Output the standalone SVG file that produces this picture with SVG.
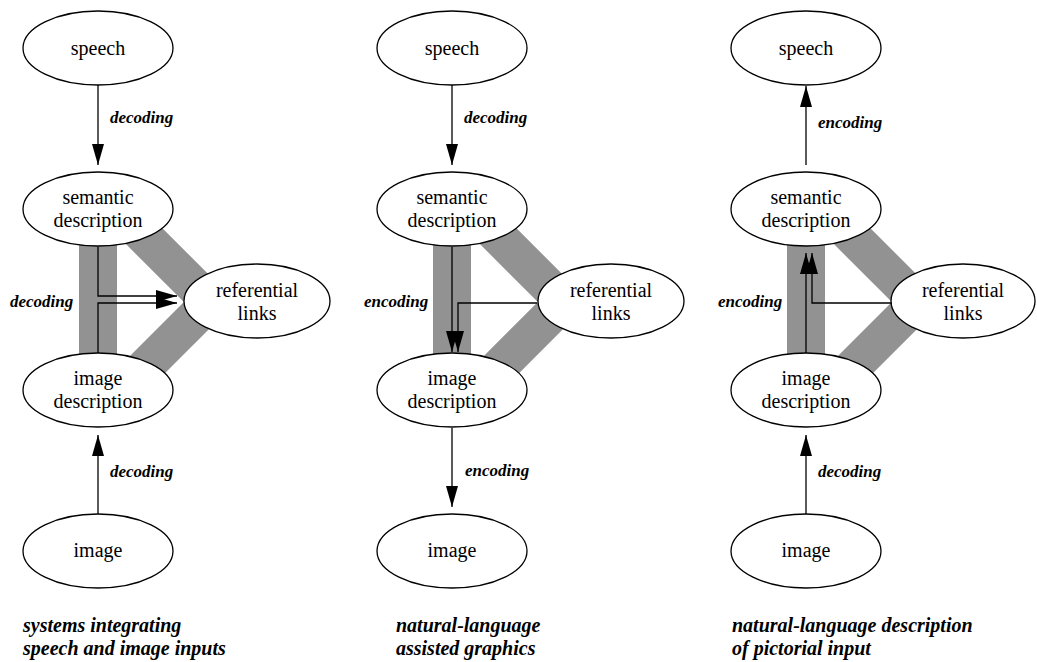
<svg xmlns="http://www.w3.org/2000/svg" width="1037" height="662" viewBox="0 0 1037 662" font-family="Liberation Serif, Times New Roman, serif">
  <style>
    .node ellipse { fill: #ffffff; stroke: #000000; stroke-width: 1.3; }
    .node text { font-size: 20px; text-anchor: middle; fill: #000000; }
    .band { fill: none; stroke: #929292; stroke-width: 37; stroke-linejoin: miter; stroke-miterlimit: 4; }
    .bar { fill: #929292; }
    .edge { fill: none; stroke: #000000; stroke-width: 1.3; marker-end: url(#head); }
    .label { font-size: 17px; font-weight: bold; font-style: italic; fill: #000000; }
    .caption { font-size: 20px; font-weight: bold; font-style: italic; fill: #000000; }
  </style>
  <defs>
    <marker id="head" markerUnits="userSpaceOnUse" markerWidth="22" markerHeight="12" refX="21" refY="6" orient="auto">
      <path d="M0,0 L21,6 L0,12 Z" fill="#000000"/>
    </marker>
  </defs>
  <rect width="1037" height="662" fill="#ffffff"/>

  <!-- grey link bands between descriptions and referential links -->
  <g id="bands">
    <rect class="bar" x="79" y="209" width="38" height="181"/>
    <path class="band" d="M110,202 L210,302 L110,402"/>
    <rect class="bar" x="433" y="209" width="38" height="181"/>
    <path class="band" d="M464,202 L564,302 L464,402"/>
    <rect class="bar" x="787" y="209" width="38" height="181"/>
    <path class="band" d="M818,202 L918,302 L818,402"/>
  </g>

  <!-- column 1: systems integrating speech and image inputs -->
  <g id="c1-speech" class="node"><ellipse cx="98" cy="48" rx="75" ry="37"/><text x="98" y="55">speech</text></g>
  <g id="c1-semantic" class="node"><ellipse cx="98" cy="209" rx="75" ry="37"/><text x="98" y="204">semantic</text><text x="98" y="227">description</text></g>
  <g id="c1-referential" class="node"><ellipse cx="257" cy="301" rx="73" ry="37"/><text x="257" y="297">referential</text><text x="257" y="320">links</text></g>
  <g id="c1-imagedesc" class="node"><ellipse cx="98" cy="390" rx="75" ry="37"/><text x="98" y="385">image</text><text x="98" y="408">description</text></g>
  <g id="c1-image" class="node"><ellipse cx="98" cy="551" rx="75" ry="37"/><text x="98" y="557">image</text></g>

  <!-- column 2: natural-language assisted graphics -->
  <g id="c2-speech" class="node"><ellipse cx="452" cy="48" rx="75" ry="37"/><text x="452" y="55">speech</text></g>
  <g id="c2-semantic" class="node"><ellipse cx="452" cy="209" rx="75" ry="37"/><text x="452" y="204">semantic</text><text x="452" y="227">description</text></g>
  <g id="c2-referential" class="node"><ellipse cx="611" cy="301" rx="73" ry="37"/><text x="611" y="297">referential</text><text x="611" y="320">links</text></g>
  <g id="c2-imagedesc" class="node"><ellipse cx="452" cy="390" rx="75" ry="37"/><text x="452" y="385">image</text><text x="452" y="408">description</text></g>
  <g id="c2-image" class="node"><ellipse cx="452" cy="551" rx="75" ry="37"/><text x="452" y="557">image</text></g>

  <!-- column 3: natural-language description of pictorial input -->
  <g id="c3-speech" class="node"><ellipse cx="806" cy="48" rx="75" ry="37"/><text x="806" y="55">speech</text></g>
  <g id="c3-semantic" class="node"><ellipse cx="806" cy="209" rx="75" ry="37"/><text x="806" y="204">semantic</text><text x="806" y="227">description</text></g>
  <g id="c3-referential" class="node"><ellipse cx="963" cy="301" rx="72" ry="37"/><text x="963" y="297">referential</text><text x="963" y="320">links</text></g>
  <g id="c3-imagedesc" class="node"><ellipse cx="806" cy="390" rx="75" ry="37"/><text x="806" y="385">image</text><text x="806" y="408">description</text></g>
  <g id="c3-image" class="node"><ellipse cx="806" cy="551" rx="75" ry="37"/><text x="806" y="557">image</text></g>

  <!-- connectors -->
  <g id="connectors">
    <path class="edge" d="M98,85 V165"/>
    <path class="edge" d="M98,247 V296 H177"/>
    <path class="edge" d="M98,353 V303 H177"/>
    <path class="edge" d="M98,514 V435"/>

    <path class="edge" d="M452,85 V165"/>
    <path class="edge" d="M452,247 V352"/>
    <path class="edge" d="M537,303 H458 V352"/>
    <path class="edge" d="M452,428 V507"/>

    <path class="edge" d="M806,165 V86"/>
    <path class="edge" d="M806,353 V253"/>
    <path class="edge" d="M892,303 H812 V253"/>
    <path class="edge" d="M806,514 V435"/>
  </g>

  <!-- connector labels -->
  <g id="labels">
    <text class="label" x="110" y="123">decoding</text>
    <text class="label" x="10" y="307">decoding</text>
    <text class="label" x="110" y="477">decoding</text>

    <text class="label" x="464" y="123">decoding</text>
    <text class="label" x="364" y="307">encoding</text>
    <text class="label" x="465" y="476">encoding</text>

    <text class="label" x="818" y="128">encoding</text>
    <text class="label" x="718" y="307">encoding</text>
    <text class="label" x="818" y="477">decoding</text>
  </g>

  <!-- column captions -->
  <g id="captions">
    <text class="caption" x="23" y="632">systems integrating</text>
    <text class="caption" x="23" y="655">speech and image inputs</text>
    <text class="caption" x="396" y="632">natural-language</text>
    <text class="caption" x="396" y="655">assisted graphics</text>
    <text class="caption" x="732" y="632">natural-language description</text>
    <text class="caption" x="732" y="655">of pictorial input</text>
  </g>
</svg>
